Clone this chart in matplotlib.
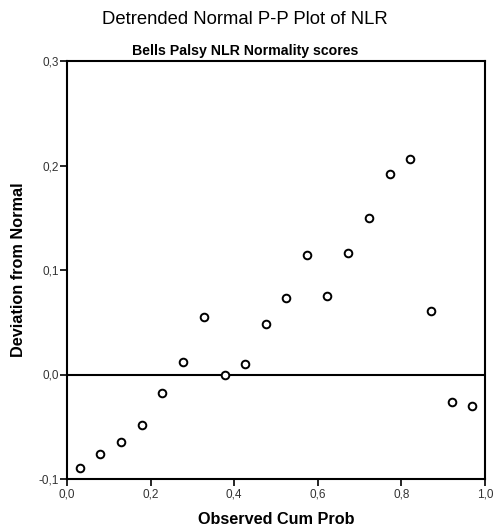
import matplotlib
matplotlib.use('Agg')
import matplotlib.pyplot as plt
from matplotlib.ticker import FuncFormatter

plt.rcParams['font.family'] = ['Liberation Sans', 'DejaVu Sans']

# values
observed_cum_prob = [0.031, 0.080, 0.130, 0.179, 0.228, 0.278, 0.327, 0.377, 0.426, 0.475,
                     0.525, 0.574, 0.623, 0.673, 0.722, 0.772, 0.821, 0.870, 0.920, 0.969]
deviation = [-0.089, -0.076, -0.065, -0.048, -0.018, 0.012, 0.055, 0.000, 0.010, 0.048,
             0.073, 0.114, 0.075, 0.116, 0.150, 0.192, 0.206, 0.061, -0.026, -0.030]

x_ticks = [0.0, 0.2, 0.4, 0.6, 0.8, 1.0]
y_ticks = [-0.1, 0.0, 0.1, 0.2, 0.3]


def comma_fmt(v, pos):
    return f"{v:.1f}".replace('.', ',')


fig = plt.figure(figsize=(4.94, 5.28), dpi=100)
ax = fig.add_axes([67 / 494, 49 / 528, 418 / 494, 418 / 528])

ax.axhline(0.0, color='black', linewidth=1.5, zorder=1)
ax.plot(observed_cum_prob, deviation, linestyle='none', marker='o', markersize=5.5,
        markerfacecolor='white', markeredgecolor='black', markeredgewidth=1.4, zorder=3)

ax.set_xlim(0.0, 1.0)
ax.set_ylim(-0.1, 0.3)
ax.set_xticks(x_ticks)
ax.set_yticks(y_ticks)
ax.xaxis.set_major_formatter(FuncFormatter(comma_fmt))
ax.yaxis.set_major_formatter(FuncFormatter(comma_fmt))
ax.tick_params(direction='out', length=5, width=1.2, labelsize=8.5, colors='black',
               labelcolor='#333333')
ax.tick_params(axis='x', pad=2)
ax.tick_params(axis='y', pad=1)

for s in ax.spines.values():
    s.set_linewidth(1.5)
    s.set_color('black')

ax.set_xlabel('Observed Cum Prob', fontsize=11.7, fontweight='bold', labelpad=8)
ax.set_ylabel('Deviation from Normal', fontsize=11.7, fontweight='bold', labelpad=9)

fig.text(245 / 494, 1 - 20 / 528, 'Detrended Normal P-P Plot of NLR', ha='center', va='center',
         fontsize=13.3)
fig.text(245 / 494, 1 - 51 / 528, 'Bells Palsy NLR Normality scores', ha='center', va='center',
         fontsize=10.2, fontweight='bold')

fig.savefig('out.png', dpi=100)
